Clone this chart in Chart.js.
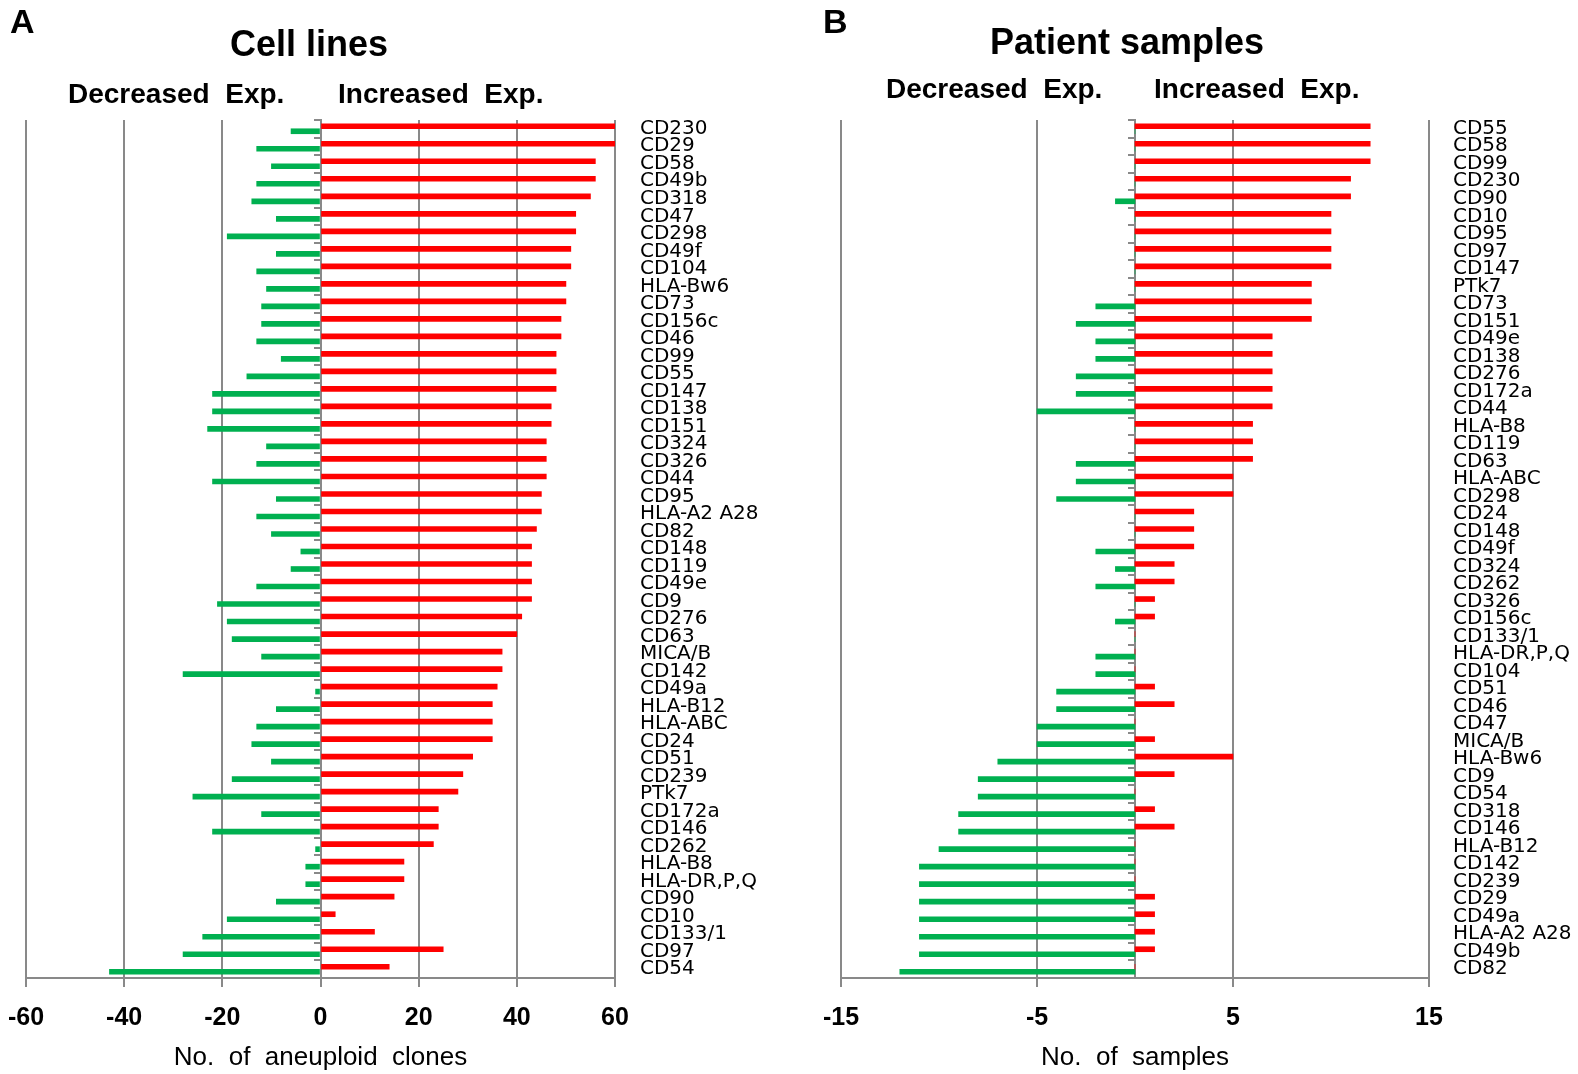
<!DOCTYPE html>
<html>
<head>
<meta charset="utf-8">
<script src="https://cdn.jsdelivr.net/npm/chart.js@4.4.1/dist/chart.umd.min.js"></script>
<style>
body { margin: 0; background: #fff; }
#page { position: relative; width: 1578px; height: 1074px; overflow: hidden; font-family: 'Liberation Sans', Arial, sans-serif; }
canvas { position: absolute; top: 0; }
.t { position: absolute; font-weight: bold; line-height: 1; white-space: pre; color: #000; }
</style>
</head>
<body>
<div id="page">
	<canvas id="chart-a" width="800" height="1074" style="left:0px"></canvas>
	<canvas id="chart-b" width="778" height="1074" style="left:800px"></canvas>
	<div class="t" style="left:10px;top:4px;font-size:34px">A</div>
	<div class="t" style="left:823px;top:4px;font-size:34px">B</div>
	<div class="t" style="left:159px;top:26px;width:300px;text-align:center;font-size:36px">Cell lines</div>
	<div class="t" style="left:977px;top:24px;width:300px;text-align:center;font-size:36px">Patient samples</div>
	<div class="t" style="left:68px;top:80px;font-size:28px">Decreased  Exp.</div>
	<div class="t" style="left:338px;top:80px;font-size:28px">Increased  Exp.</div>
	<div class="t" style="left:886px;top:75px;font-size:28px">Decreased  Exp.</div>
	<div class="t" style="left:1154px;top:75px;font-size:28px">Increased  Exp.</div>
</div>
<script>
/* cell lines */

var cellLabels = ['CD230', 'CD29', 'CD58', 'CD49b', 'CD318', 'CD47', 'CD298', 'CD49f', 'CD104', 'HLA-Bw6', 'CD73', 'CD156c', 'CD46', 'CD99', 'CD55', 'CD147', 'CD138', 'CD151', 'CD324', 'CD326', 'CD44', 'CD95', 'HLA-A2 A28', 'CD82', 'CD148', 'CD119', 'CD49e', 'CD9', 'CD276', 'CD63', 'MICA/B', 'CD142', 'CD49a', 'HLA-B12', 'HLA-ABC', 'CD24', 'CD51', 'CD239', 'PTk7', 'CD172a', 'CD146', 'CD262', 'HLA-B8', 'HLA-DR,P,Q', 'CD90', 'CD10', 'CD133/1', 'CD97', 'CD54'];
var cellIncreased = [60, 60, 56, 56, 55, 52, 52, 51, 51, 50, 50, 49, 49, 48, 48, 48, 47, 47, 46, 46, 46, 45, 45, 44, 43, 43, 43, 43, 41, 40, 37, 37, 36, 35, 35, 35, 31, 29, 28, 24, 24, 23, 17, 17, 15, 3, 11, 25, 14];
var cellDecreased = [-6, -13, -10, -13, -14, -9, -19, -9, -13, -11, -12, -12, -13, -8, -15, -22, -22, -23, -11, -13, -22, -9, -13, -10, -4, -6, -13, -21, -19, -18, -12, -28, -1, -9, -13, -14, -10, -18, -26, -12, -22, -1, -3, -3, -9, -19, -24, -28, -43];

/* patient samples */

var patientLabels = ['CD55', 'CD58', 'CD99', 'CD230', 'CD90', 'CD10', 'CD95', 'CD97', 'CD147', 'PTk7', 'CD73', 'CD151', 'CD49e', 'CD138', 'CD276', 'CD172a', 'CD44', 'HLA-B8', 'CD119', 'CD63', 'HLA-ABC', 'CD298', 'CD24', 'CD148', 'CD49f', 'CD324', 'CD262', 'CD326', 'CD156c', 'CD133/1', 'HLA-DR,P,Q', 'CD104', 'CD51', 'CD46', 'CD47', 'MICA/B', 'HLA-Bw6', 'CD9', 'CD54', 'CD318', 'CD146', 'HLA-B12', 'CD142', 'CD239', 'CD29', 'CD49a', 'HLA-A2 A28', 'CD49b', 'CD82'];
var patientIncreased = [12, 12, 12, 11, 11, 10, 10, 10, 10, 9, 9, 9, 7, 7, 7, 7, 7, 6, 6, 6, 5, 5, 3, 3, 3, 2, 2, 1, 1, 0, 0, 0, 1, 2, 0, 1, 5, 2, 0, 1, 2, 0, 0, 0, 1, 1, 1, 1, 0];
var patientDecreased = [0, 0, 0, 0, -1, 0, 0, 0, 0, 0, -2, -3, -2, -2, -3, -3, -5, 0, 0, -3, -3, -4, 0, 0, -2, -1, -2, 0, -1, 0, -2, -2, -4, -4, -5, -5, -7, -8, -8, -9, -9, -10, -11, -11, -11, -11, -11, -11, -12];

var gridColor = '#898989';
var red = '#ff0000';
var green = '#00b050';

var makeChart = function(id, labels, increased, decreased, axis) {
	var context = document.getElementById(id).getContext('2d');
	var payload = {
		type: 'bar',
		data: {
			labels: labels,
			datasets: [
				{ label: 'Increased', data: increased, backgroundColor: red, barThickness: 5, yAxisID: 'y' },
				{ label: 'Decreased', data: decreased, backgroundColor: green, barThickness: 5, yAxisID: 'y' }
			]
		},
		options: {
			indexAxis: 'y',
			responsive: false,
			animation: false,
			devicePixelRatio: 1,
			layout: { padding: { left: axis.left, top: 120, right: 0, bottom: 0 } },
			plugins: { legend: { display: false }, tooltip: { enabled: false } },
			scales: {
				x: {
					type: 'linear', min: axis.min, max: axis.max,
					// keep the plot edges where the picture has them
					afterFit: function(scale) {
						scale.height = 96;
						scale.paddingLeft = 0;
						scale.paddingRight = 0;
					},
					ticks: { stepSize: axis.step, color: '#000', padding: 16, font: { family: "'Liberation Sans', Arial, sans-serif", size: 25, weight: 'bold' } },
					grid: { color: gridColor, lineWidth: 2, tickLength: 9 },
					border: { display: true, color: gridColor, width: 2 },
					title: { display: true, text: axis.title, color: '#000', padding: { top: 0, bottom: 1 }, font: { family: "'Liberation Sans', Arial, sans-serif", size: 26 } }
				},
				y: {
					type: 'category', position: 'right', offset: true,
					afterFit: function(scale) { scale.width = axis.labelWidth; },
					grid: { display: false, drawTicks: false },
					border: { display: false },
					ticks: { autoSkip: false, color: '#000', padding: axis.labelGap, font: { family: "'DejaVu Sans', sans-serif", size: 20 } }
				},
				y0: {
					type: 'category', position: { x: 0 }, offset: true,
					grid: { offset: true, drawOnChartArea: false, drawTicks: true, tickLength: 6, color: gridColor, lineWidth: 2 },
					border: { display: true, color: gridColor, width: 2 },
					ticks: { display: false }
				}
			}
		}
	};
	return new Chart(context, payload);
};

makeChart('chart-a', cellLabels, cellIncreased, cellDecreased, { left: 26, min: -60, max: 60, step: 20, labelWidth: 185, labelGap: 25, title: 'No.  of  aneuploid  clones' });
makeChart('chart-b', patientLabels, patientIncreased, patientDecreased, { left: 41, min: -15, max: 15, step: 10, labelWidth: 149, labelGap: 24, title: 'No.  of  samples' });
</script>
</body>
</html>
